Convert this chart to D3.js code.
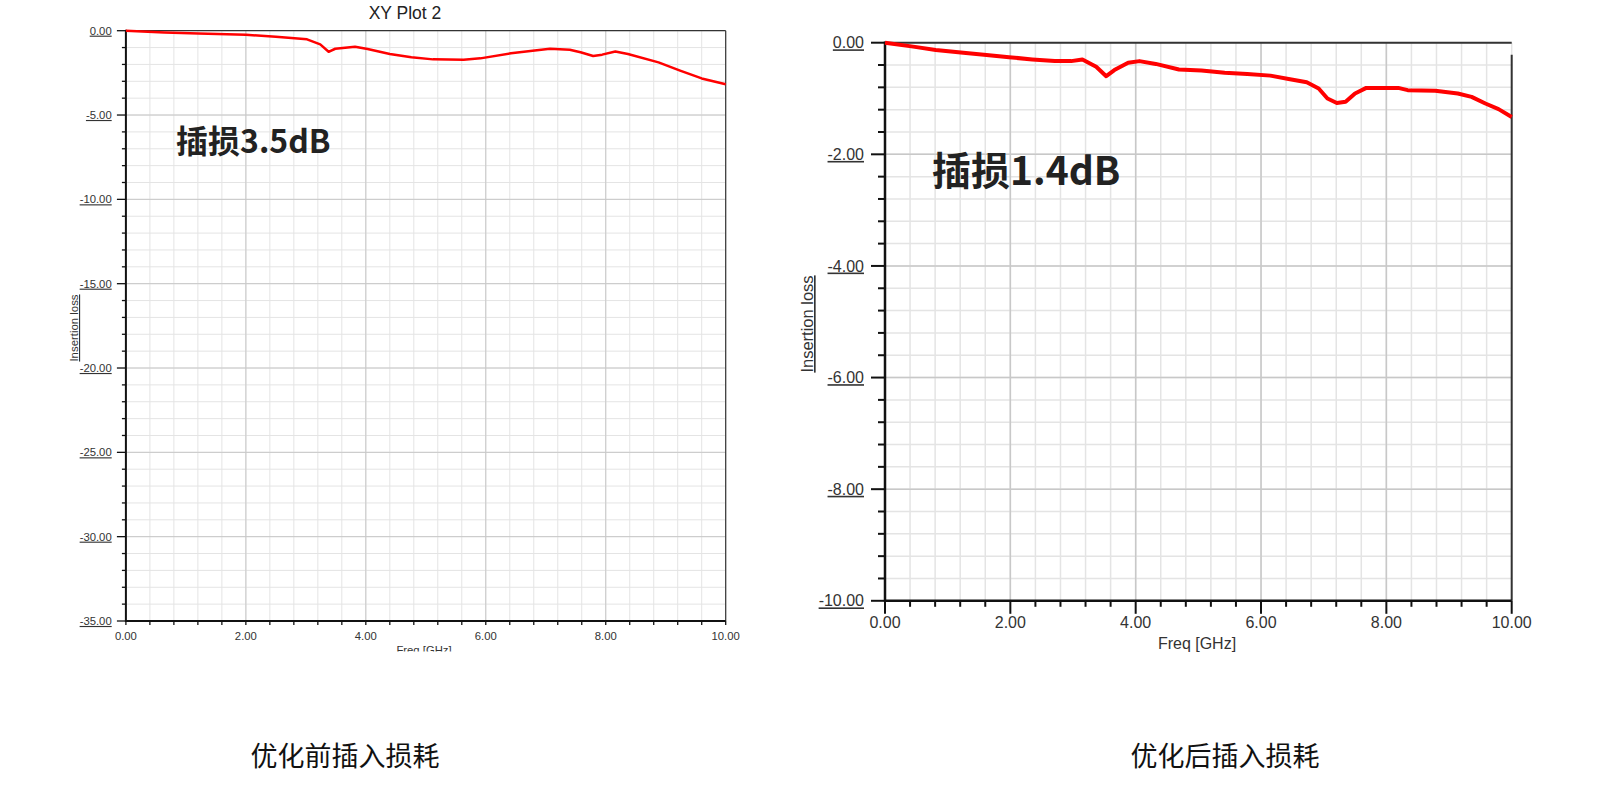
<!DOCTYPE html>
<html>
<head>
<meta charset="utf-8">
<script src="https://cdn.jsdelivr.net/npm/d3@7/dist/d3.min.js"></script>
<style>
  html, body { margin: 0; padding: 0; background: #fff; }
  svg { display: block; }
</style>
</head>
<body>
<svg id="chart" width="1602" height="789"></svg>
<script>
// ---------- data ----------
const leftFreq = [0, 0.64, 1.21, 2.0, 2.5, 3.02, 3.24, 3.38, 3.49, 3.82, 4.03, 4.4, 4.76, 5.12, 5.63, 5.91, 6.42, 6.78, 7.07, 7.4, 7.58, 7.79, 7.94, 8.16, 8.37, 8.88, 9.24, 9.6, 10.0];
const leftLoss = [0, -0.1, -0.16, -0.24, -0.36, -0.51, -0.81, -1.25, -1.07, -0.95, -1.09, -1.38, -1.58, -1.70, -1.72, -1.64, -1.34, -1.19, -1.07, -1.13, -1.28, -1.50, -1.42, -1.23, -1.38, -1.88, -2.37, -2.83, -3.18];

const rightFreq = [0, 0.45, 0.81, 1.25, 1.62, 1.98, 2.35, 2.71, 2.97, 3.15, 3.37, 3.53, 3.66, 3.88, 4.06, 4.32, 4.69, 5.05, 5.42, 5.78, 6.15, 6.44, 6.73, 6.92, 7.06, 7.21, 7.35, 7.50, 7.68, 8.19, 8.34, 8.78, 9.14, 9.36, 9.58, 9.79, 10.0];
const rightLoss = [0, -0.07, -0.13, -0.18, -0.22, -0.26, -0.30, -0.33, -0.33, -0.30, -0.43, -0.60, -0.49, -0.36, -0.33, -0.38, -0.48, -0.50, -0.54, -0.56, -0.59, -0.65, -0.71, -0.82, -1.00, -1.08, -1.06, -0.91, -0.81, -0.81, -0.85, -0.86, -0.91, -0.97, -1.09, -1.19, -1.33];

const xTickLabels = [0, 2, 4, 6, 8, 10];
const leftYTicks = [0, -5, -10, -15, -20, -25, -30, -35];
const rightYTicks = [0, -2, -4, -6, -8, -10];

const leftTitle = "XY Plot 2";
const xTitle = "Freq [GHz]";
const yTitle = "Insertion loss";
const leftNote = "插损3.5dB";
const rightNote = "插损1.4dB";
const leftCaption = "优化前插入损耗";
const rightCaption = "优化后插入损耗";

// ---------- drawing ----------
const svg = d3.select("#chart");
const LAT = "'Liberation Sans', Arial, sans-serif";
const CJK = "'Noto Sans CJK SC', 'Noto Sans', sans-serif";

function drawChart(c) {
  const x = d3.scaleLinear().domain([0, 10]).range([c.x0, c.x1]);
  const y = d3.scaleLinear().domain([0, c.yMin]).range([c.y0, c.y1]);
  const g = svg.append("g");

  const xMinor = d3.range(0, 10.0001, 0.4).map(v => +v.toFixed(2));
  const yMinor = d3.range(0, c.yMin - 0.0001, -c.yMinorStep).map(v => +v.toFixed(2));

  // minor grid
  g.selectAll(null).data(xMinor).join("line")
    .attr("x1", d => x(d)).attr("x2", d => x(d))
    .attr("y1", c.y0).attr("y2", c.y1)
    .attr("stroke", "#e4e4e4").attr("stroke-width", c.gridW);
  g.selectAll(null).data(yMinor).join("line")
    .attr("x1", c.x0).attr("x2", c.x1)
    .attr("y1", d => y(d)).attr("y2", d => y(d))
    .attr("stroke", "#e4e4e4").attr("stroke-width", c.gridW);
  // major grid
  g.selectAll(null).data(xTickLabels.slice(1, -1)).join("line")
    .attr("x1", d => x(d)).attr("x2", d => x(d))
    .attr("y1", c.y0).attr("y2", c.y1)
    .attr("stroke", "#c8c8c8").attr("stroke-width", c.gridW);
  g.selectAll(null).data(c.yTicks.slice(1, -1)).join("line")
    .attr("x1", c.x0).attr("x2", c.x1)
    .attr("y1", d => y(d)).attr("y2", d => y(d))
    .attr("stroke", "#c8c8c8").attr("stroke-width", c.gridW);

  // frame: top and right
  g.append("line").attr("x1", c.x0).attr("x2", c.x1).attr("y1", c.y0).attr("y2", c.y0)
    .attr("stroke", "#333").attr("stroke-width", c.frameW);
  g.append("line").attr("x1", c.x1).attr("x2", c.x1).attr("y1", c.y0 + c.rightGap).attr("y2", c.y1)
    .attr("stroke", "#333").attr("stroke-width", c.frameW);

  // ticks
  const isMajorX = d => xTickLabels.includes(d);
  g.selectAll(null).data(xMinor).join("line")
    .attr("x1", d => x(d)).attr("x2", d => x(d))
    .attr("y1", c.y1).attr("y2", d => c.y1 + (isMajorX(d) ? c.xMajorTick : c.xMinorTick))
    .attr("stroke", "#111").attr("stroke-width", c.tickW);
  g.selectAll(null).data(yMinor).join("line")
    .attr("x1", d => c.x0 - (c.yTicks.includes(d) ? c.yMajorTick : c.yMinorTick)).attr("x2", c.x0)
    .attr("y1", d => y(d)).attr("y2", d => y(d))
    .attr("stroke", "#111").attr("stroke-width", c.tickW);
  // axis lines
  g.append("line").attr("x1", c.x0).attr("x2", c.x1).attr("y1", c.y1).attr("y2", c.y1)
    .attr("stroke", "#111").attr("stroke-width", c.axisW);
  g.append("line").attr("x1", c.x0).attr("x2", c.x0).attr("y1", c.y0 - c.axisW / 2).attr("y2", c.y1 + c.axisW / 2)
    .attr("stroke", "#111").attr("stroke-width", c.axisW);

  // tick labels
  g.selectAll(null).data(xTickLabels).join("text")
    .attr("x", d => x(d)).attr("y", c.xLabelY)
    .attr("text-anchor", "middle")
    .attr("font-family", LAT).attr("font-size", c.fontSize).attr("fill", "#333")
    .text(d => d.toFixed(2));
  g.selectAll(null).data(c.yTicks).join("text")
    .attr("x", c.yLabelX).attr("y", d => y(d)).attr("dy", "0.35em")
    .attr("text-anchor", "end")
    .attr("font-family", LAT).attr("font-size", c.fontSize).attr("fill", "#333")
    .attr("text-decoration", "underline")
    .text(d => d.toFixed(2));

  // axis titles
  const clipId = "clip" + c.id;
  svg.append("clipPath").attr("id", clipId).append("rect")
    .attr("x", 0).attr("y", 0).attr("width", 1602).attr("height", c.clipY);
  g.append("text")
    .attr("x", c.xTitleX).attr("y", c.xTitleY)
    .attr("text-anchor", "middle")
    .attr("font-family", LAT).attr("font-size", c.fontSize).attr("fill", "#333")
    .attr("clip-path", `url(#${clipId})`)
    .text(xTitle);
  g.append("text")
    .attr("transform", `translate(${c.yTitleX},${c.yTitleY}) rotate(-90)`)
    .attr("text-anchor", "middle")
    .attr("font-family", LAT).attr("font-size", c.yTitleSize).attr("fill", "#333")
    .attr("text-decoration", "underline")
    .text(yTitle);

  // curve
  const line = d3.line().x(d => x(d[0])).y(d => y(d[1]));
  g.append("path")
    .datum(c.freq.map((f, i) => [f, c.loss[i]]))
    .attr("d", line)
    .attr("fill", "none").attr("stroke", "#ff0000")
    .attr("stroke-width", c.lineW).attr("stroke-linejoin", "round");

  // annotation
  g.append("text")
    .attr("x", c.noteX).attr("y", c.noteY)
    .attr("font-family", CJK).attr("font-weight", "bold")
    .attr("font-size", c.noteSize).attr("fill", "#222")
    .text(c.note);

  // caption
  svg.append("text")
    .attr("x", c.capX).attr("y", 766)
    .attr("text-anchor", "middle")
    .attr("font-family", CJK).attr("font-size", 27).attr("fill", "#111")
    .text(c.caption);
}

drawChart({
  id: "L", x0: 125.9, x1: 725.7, y0: 30.7, y1: 621, yMin: -35, yMinorStep: 1,
  yTicks: leftYTicks, freq: leftFreq, loss: leftLoss,
  gridW: 1, frameW: 1.2, axisW: 2, tickW: 1.3,
  xMinorTick: 4, xMajorTick: 4, yMinorTick: 4, yMajorTick: 9,
  fontSize: 11.3, yTitleSize: 11.4, xLabelY: 639.5, yLabelX: 111.7,
  xTitleX: 424, xTitleY: 653.5, clipY: 651.5,
  yTitleX: 78, yTitleY: 328, rightGap: 0,
  lineW: 2.5, note: leftNote, noteX: 176, noteY: 153, noteSize: 32,
  caption: leftCaption, capX: 345
});

drawChart({
  id: "R", x0: 885, x1: 1511.7, y0: 42.7, y1: 600.8, yMin: -10, yMinorStep: 0.4,
  yTicks: rightYTicks, freq: rightFreq, loss: rightLoss,
  gridW: 1.5, frameW: 2, axisW: 2.5, tickW: 2,
  xMinorTick: 6, xMajorTick: 13, yMinorTick: 7, yMajorTick: 14,
  fontSize: 16, yTitleSize: 16.5, xLabelY: 628, yLabelX: 864,
  xTitleX: 1197, xTitleY: 649, clipY: 789,
  yTitleX: 813, yTitleY: 324, rightGap: 12,
  lineW: 4, note: rightNote, noteX: 932, noteY: 185, noteSize: 39,
  caption: rightCaption, capX: 1225
});

// left title
svg.append("text")
  .attr("x", 405).attr("y", 18.5)
  .attr("text-anchor", "middle")
  .attr("font-family", LAT).attr("font-size", 17.5).attr("fill", "#222")
  .text(leftTitle);
</script>
</body>
</html>
